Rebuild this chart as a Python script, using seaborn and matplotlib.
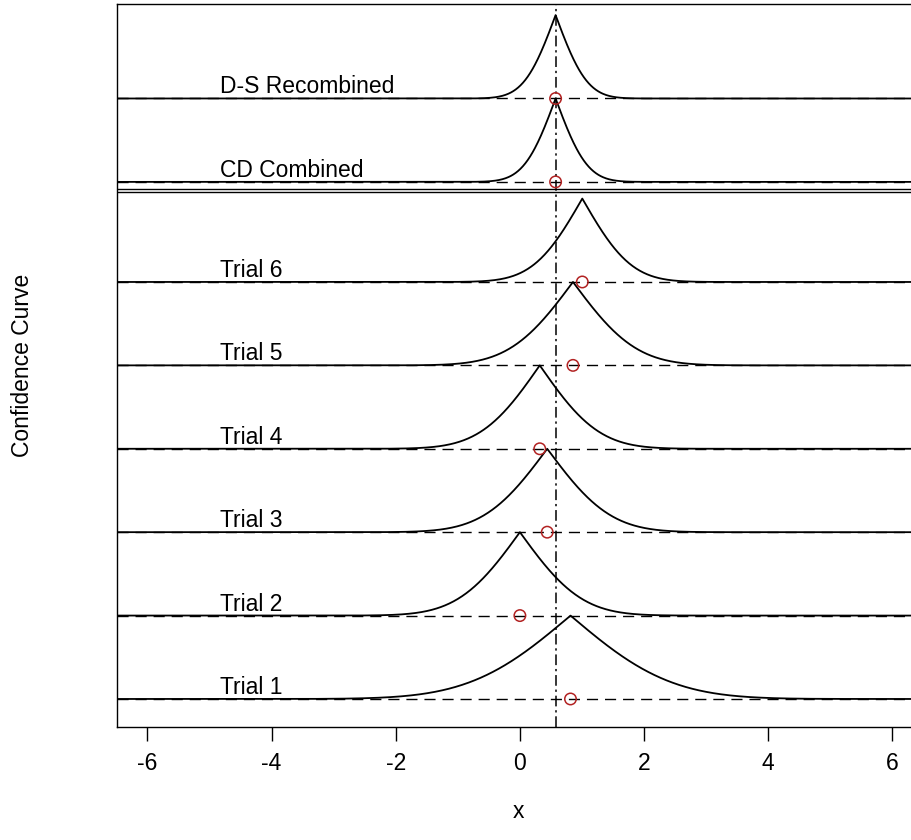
import math

import matplotlib
matplotlib.use("Agg")
import matplotlib.pyplot as plt
import numpy as np
import pandas as pd
import seaborn as sns

# curves from bottom to top
labels = ["Trial 1", "Trial 2", "Trial 3", "Trial 4", "Trial 5", "Trial 6",
          "CD Combined", "D-S Recombined"]
# median (peak position) of each confidence curve
centers = [0.815, 0.0, 0.44, 0.32, 0.855, 1.005, 0.575, 0.575]
# spread (sd) of each confidence curve
scales = [1.27, 0.78, 0.80, 0.75, 0.80, 0.62, 0.40, 0.40]
combined_estimate = 0.575
x_ticks = [-6, -4, -2, 0, 2, 4, 6]


def conf_curve(x, mu, sd):
    """Two-sided confidence curve of a normal confidence distribution."""
    erf = np.vectorize(math.erf)
    cdf = 0.5 * (1 + erf((x - mu) / (sd * math.sqrt(2))))
    return 1 - np.abs(2 * cdf - 1)


def main():
    sns.set_style("ticks")
    plt.rcParams["font.family"] = ["Liberation Sans", "DejaVu Sans"]
    plt.rcParams["axes.unicode_minus"] = False
    plt.rcParams["text.color"] = "black"
    plt.rcParams["axes.labelcolor"] = "black"
    plt.rcParams["xtick.color"] = "black"
    plt.rcParams["xtick.labelcolor"] = "black"

    # stacking: trials one unit apart, combined block a bit above them
    offsets = [0, 1, 2, 3, 4, 5, 6.2, 7.2]

    rows = []
    grid = np.linspace(-6.8, 6.8, 1401)
    for lab, mu, sd, off in zip(labels, centers, scales, offsets):
        xs = np.union1d(grid, [mu])
        ys = conf_curve(xs, mu, sd) + off
        rows.append(pd.DataFrame({"x": xs, "y": ys, "label": lab}))
    df = pd.concat(rows, ignore_index=True)

    fig = plt.figure(figsize=(9.11, 8.40), dpi=100)
    ax = fig.add_axes([117 / 911, (840 - 727) / 840, (911 - 117) / 911, (727 - 4) / 840])

    for off in offsets:
        ax.axhline(off, color="black", lw=1.0, dashes=(8, 5), zorder=1)
    ax.axhline(6.11, color="black", lw=1.0, zorder=1)
    ax.axhline(6.075, color="black", lw=1.0, zorder=1)
    ax.axvline(combined_estimate, color="black", lw=1.1, dashes=(7, 2.5, 1.5, 2.5), zorder=1)

    sns.lineplot(data=df, x="x", y="y", units="label", estimator=None, sort=False,
                 color="black", lw=1.3, ax=ax, zorder=2)
    sns.scatterplot(x=centers, y=offsets, marker="o", s=68, facecolor="none",
                    edgecolor="#B22222", linewidth=1.1, ax=ax, zorder=4)

    for lab, off in zip(labels, offsets):
        ax.text(-4.83, off + 0.06, lab, fontsize=16.5, va="baseline", ha="left",
                color="black")

    ax.set_xlim(-6.49, 6.30)
    ax.set_ylim(-0.336, 8.333)
    ax.set_xticks(x_ticks)
    ax.set_xticklabels([str(t) for t in x_ticks])
    ax.set_yticks([])
    ax.tick_params(axis="x", length=10, width=1, pad=8, labelsize=16.5, direction="out",
                   colors="black")
    ax.spines["right"].set_visible(False)
    for s in ["left", "bottom", "top"]:
        ax.spines[s].set_linewidth(1.0)
        ax.spines[s].set_color("black")

    ax.set_xlabel("x", fontsize=16.5, color="black")
    ax.set_ylabel("Confidence Curve", fontsize=16.5, color="black")
    ax.xaxis.set_label_coords(0.506, -0.101)
    ax.yaxis.set_label_coords(-0.1045, 0.5)

    fig.savefig("out.png", dpi=100)
    plt.close(fig)


if __name__ == "__main__":
    main()
